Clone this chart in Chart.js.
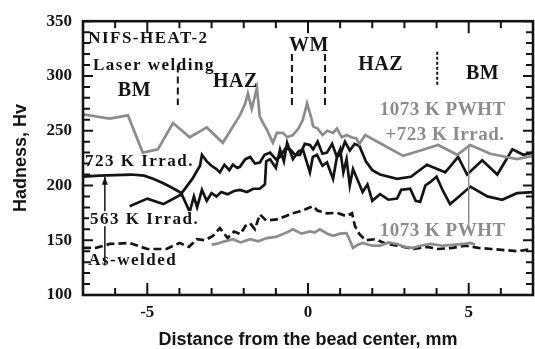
<!DOCTYPE html>
<html>
<head>
<meta charset="utf-8">
<script src="https://cdn.jsdelivr.net/npm/chart.js@4.4.0/dist/chart.umd.min.js"></script>
<style>
  html, body { margin: 0; padding: 0; background: #fff; }
  canvas { display: block; }
</style>
</head>
<body>
<canvas id="hvChart" width="535" height="349"></canvas>
<script>
// hardness profiles across the weld, x in mm from bead center, y in Hv
const pwhtIrrX = [-7, -6.17, -5.6, -5.14, -4.67, -4.2, -3.68, -3.15, -2.65, -2.12, -1.95, -1.87, -1.75, -1.59, -1.5, -1.4, -1.28, -1.09, -0.97, -0.78, -0.65, -0.47, -0.3, -0.16, -0.03, 0.1, 0.16, 0.3, 0.45, 0.6, 0.78, 0.9, 1.05, 1.2, 1.35, 1.5, 1.6, 1.78, 2.4, 2.96, 3.5, 4.05, 4.64, 5.05, 5.67, 6.5, 7];
const pwhtIrrY = [265, 261, 264, 230, 233, 257, 244, 253, 239, 264, 275, 284, 270, 289, 263, 257, 251, 239, 248, 248, 244, 246, 252, 260, 275, 262, 254, 252, 246, 250, 248, 252, 244, 246, 244, 243, 238, 246, 236, 227, 232, 237, 228, 237, 229, 224, 227];

const irr723X = [-7, -6.5, -6, -5.5, -5.1, -4.8, -4.5, -4.2, -3.93, -3.6, -3.36, -3.3, -3.15, -3, -2.85, -2.74, -2.6, -2.45, -2.34, -2.2, -2.12, -1.95, -1.8, -1.65, -1.5, -1.35, -1.18, -1, -0.87, -0.7, -0.56, -0.4, -0.25, -0.1, 0.06, 0.16, 0.3, 0.45, 0.59, 0.75, 0.9, 1, 1.15, 1.3, 1.45, 1.6, 1.8, 2, 2.24, 2.77, 3.2, 3.7, 4.27, 4.67, 4.95, 5.42, 5.89, 6.36, 6.7, 7];
const irr723Y = [208, 209, 209.5, 210, 209, 206, 202, 197.5, 193, 206, 218, 228, 222, 218, 215, 212, 219, 214, 219, 216, 217, 224, 226, 220, 221, 228, 230, 224, 226, 234, 233, 228, 228, 238, 237, 233, 240, 229, 230, 238, 226, 228, 240, 232, 238, 236, 222, 214, 210, 206, 208, 219, 212, 226, 210, 223, 210, 233, 228, 230];

const irr563X = [-5.55, -5, -4.5, -3.93, -3.68, -3.55, -3.45, -3.3, -3.15, -3, -2.85, -2.7, -2.5, -2.3, -2.12, -1.9, -1.7, -1.5, -1.34, -1.3, -1.18, -1, -0.87, -0.75, -0.65, -0.47, -0.3, -0.16, 0.06, 0.15, 0.28, 0.45, 0.59, 0.78, 0.9, 1, 1.1, 1.2, 1.3, 1.4, 1.53, 1.7, 1.85, 2, 2.24, 2.5, 2.77, 2.9, 3.18, 3.35, 3.49, 3.65, 3.8, 4, 4.2, 4.42, 4.7, 5.05, 5.58, 6.04, 6.5, 7];
const irr563Y = [181, 188, 183, 192, 176, 190, 180, 196, 186, 193, 190, 194, 192, 195, 196, 194, 197, 197, 201, 222, 224, 216, 233, 222, 239, 224, 231, 233, 212, 226, 228, 218, 221, 206, 226, 233, 212, 224, 200, 215, 206, 194, 201, 186, 192, 187, 188, 196, 197, 186, 185, 200, 203, 208, 195, 183, 190, 199, 190, 187, 193, 194];

const asWeldedX = [-7, -6.6, -6.17, -5.55, -5, -4.4, -4, -3.7, -3.46, -3.2, -2.96, -2.74, -2.5, -2.3, -2.1, -1.95, -1.8, -1.65, -1.5, -1.3, -0.97, -0.7, -0.47, -0.3, -0.1, 0.16, 0.3, 0.59, 0.9, 1.2, 1.37, 1.46, 1.6, 1.8, 2.1, 2.4, 2.8, 3.3, 3.7, 4.05, 4.5, 4.9, 5.3, 5.7, 6.1, 6.5, 7];
const asWeldedY = [143, 143, 146.6, 147.5, 142, 142, 147.5, 144, 151, 150, 154, 161, 152, 158, 155.6, 163, 165.5, 160, 173.6, 168, 169, 172, 174.6, 176, 178, 181, 177, 174.6, 175, 172, 174.6, 163, 155.6, 150, 151, 147, 145, 142, 144, 142, 143, 145, 143, 142, 141, 140, 142];

const pwhtX = [-3, -2.84, -2.6, -2.34, -2.1, -1.8, -1.55, -1.28, -1, -0.78, -0.6, -0.47, -0.2, 0.06, 0.2, 0.37, 0.6, 0.78, 1, 1.2, 1.3, 1.4, 1.55, 1.7, 2, 2.24, 2.5, 2.77, 3, 3.27, 3.5, 3.8, 4.2, 4.6, 4.83, 5.05, 5.2];
const pwhtY = [146, 146.6, 149, 151, 148, 151, 149, 152, 153, 155.6, 158, 160, 156, 158, 157, 160, 156, 154, 156, 156.5, 150, 143, 146, 147.5, 145, 145, 148, 146.6, 144, 143, 145, 146.6, 145, 146, 146.6, 147.5, 146];

// axes
const xMin = -7, xMax = 7;
const yMin = 100, yMax = 350;
const xTickValues = [-5, 0, 5];

const GRAY = '#8c8c8c';
const BLACK = '#141414';

function toPoints(xs, ys) {
    return xs.map((x, i) => ({ x: x, y: ys[i] }));
}

// text labels placed in data units
const labels = [
    { text: 'NIFS-HEAT-2', x: -6.84, y: 333.8, align: 'left', size: 17, color: BLACK },
    { text: 'Laser welding', x: -6.69, y: 309.5, align: 'left', size: 17, color: BLACK },
    { text: 'BM', x: -5.4, y: 286, align: 'center', size: 20, color: BLACK },
    { text: 'HAZ', x: -2.26, y: 295, align: 'center', size: 20, color: BLACK },
    { text: 'WM', x: 0.03, y: 327.5, align: 'center', size: 20, color: BLACK },
    { text: 'HAZ', x: 2.26, y: 310.4, align: 'center', size: 20, color: BLACK },
    { text: 'BM', x: 5.43, y: 302.3, align: 'center', size: 20, color: BLACK },
    { text: '1073 K PWHT', x: 4.19, y: 269, align: 'center', size: 19, color: GRAY },
    { text: '+723 K Irrad.', x: 4.26, y: 245.7, align: 'center', size: 19, color: GRAY },
    { text: '723 K Irrad.', x: -6.94, y: 221.4, align: 'left', size: 17, color: BLACK },
    { text: '563 K Irrad.', x: -6.78, y: 169.2, align: 'left', size: 17, color: BLACK, knockout: true },
    { text: 'As-welded', x: -6.84, y: 131.5, align: 'left', size: 17, color: BLACK },
    { text: '1073 K PWHT', x: 4.19, y: 158.4, align: 'center', size: 19, color: GRAY }
];

// dashed region boundaries: [x, yFrom, yTo]
const boundaries = [
    [-4.05, 309.5, 273.5],
    [-0.5, 320, 273.5],
    [0.53, 320, 273.5],
    [4.02, 322, 291.5]
];

const framePlugin = {
    id: 'frame',
    afterDatasetsDraw(chart) {
        const ctx = chart.ctx;
        const xs = chart.scales.x;
        const ys = chart.scales.y;
        const area = chart.chartArea;
        ctx.save();

        // region boundaries
        ctx.strokeStyle = BLACK;
        ctx.lineWidth = 2;
        boundaries.forEach((b, i) => {
            ctx.setLineDash(i === 3 ? [3, 2] : [7, 4]);
            const px = xs.getPixelForValue(b[0]);
            ctx.beginPath();
            ctx.moveTo(px, ys.getPixelForValue(b[1]));
            ctx.lineTo(px, ys.getPixelForValue(b[2]));
            ctx.stroke();
        });
        ctx.setLineDash([]);

        // arrow from as-welded up to 723 K level
        const ax = xs.getPixelForValue(-6.32);
        const aTop = ys.getPixelForValue(208);
        ctx.lineWidth = 1.5;
        ctx.beginPath();
        ctx.moveTo(ax, ys.getPixelForValue(127));
        ctx.lineTo(ax, aTop);
        ctx.stroke();
        ctx.beginPath();
        ctx.moveTo(ax, aTop);
        ctx.lineTo(ax - 3, aTop + 8);
        ctx.lineTo(ax + 3, aTop + 8);
        ctx.closePath();
        ctx.fillStyle = BLACK;
        ctx.fill();

        // leader line for 1073 K PWHT
        ctx.strokeStyle = GRAY;
        ctx.lineWidth = 1.5;
        const lx = xs.getPixelForValue(5);
        ctx.beginPath();
        ctx.moveTo(lx, ys.getPixelForValue(237.5));
        ctx.lineTo(lx, ys.getPixelForValue(165));
        ctx.stroke();

        // inward tick marks
        ctx.strokeStyle = BLACK;
        ctx.lineWidth = 2;
        for (let v = yMin; v <= yMax; v += 10) {
            const py = ys.getPixelForValue(v);
            const len = v % 50 === 0 ? 10 : 7;
            ctx.beginPath();
            ctx.moveTo(area.left, py);
            ctx.lineTo(area.left + len, py);
            ctx.moveTo(area.right, py);
            ctx.lineTo(area.right - len, py);
            ctx.stroke();
        }
        for (let v = xMin; v <= xMax; v += 1) {
            const px = xs.getPixelForValue(v);
            const len = v % 5 === 0 ? 12 : 7;
            ctx.beginPath();
            ctx.moveTo(px, area.bottom);
            ctx.lineTo(px, area.bottom - len);
            ctx.moveTo(px, area.top);
            ctx.lineTo(px, area.top + len);
            ctx.stroke();
        }

        // frame
        ctx.lineWidth = 2.6;
        ctx.strokeRect(area.left, area.top, area.right - area.left, area.bottom - area.top);

        // labels
        ctx.textBaseline = 'middle';
        labels.forEach(l => {
            ctx.font = 'bold ' + l.size + 'px "Liberation Serif", serif';
            ctx.letterSpacing = l.size === 17 ? '1.5px' : '0.5px';
            ctx.textAlign = l.align;
            const px = xs.getPixelForValue(l.x);
            const py = ys.getPixelForValue(l.y);
            if (l.knockout) {
                const w = ctx.measureText(l.text).width;
                ctx.fillStyle = '#fff';
                ctx.fillRect(px - 1, py - 8, w + 2, 15);
            }
            ctx.fillStyle = l.color;
            ctx.fillText(l.text, px, py);
        });
        ctx.letterSpacing = '0px';
        ctx.restore();
    }
};

function lineSet(label, xs, ys, color, dash) {
    return {
        label: label,
        data: toPoints(xs, ys),
        borderColor: color,
        borderWidth: 2.7,
        borderDash: dash || [],
        pointRadius: 0,
        tension: 0,
        fill: false
    };
}

const ctx = document.getElementById('hvChart').getContext('2d');
new Chart(ctx, {
    type: 'line',
    data: {
        datasets: [
            lineSet('1073 K PWHT + 723 K Irrad.', pwhtIrrX, pwhtIrrY, GRAY),
            lineSet('1073 K PWHT', pwhtX, pwhtY, GRAY),
            lineSet('As-welded', asWeldedX, asWeldedY, BLACK, [8, 4]),
            lineSet('563 K Irrad.', irr563X, irr563Y, BLACK),
            lineSet('723 K Irrad.', irr723X, irr723Y, BLACK)
        ]
    },
    options: {
        responsive: false,
        animation: false,
        devicePixelRatio: 1,
        layout: { padding: { top: 17, right: 2, left: 0, bottom: 0 } },
        plugins: {
            legend: { display: false },
            tooltip: { enabled: false }
        },
        scales: {
            x: {
                type: 'linear',
                min: xMin,
                max: xMax,
                afterFit: s => { s.height = 54; },
                afterBuildTicks: s => { s.ticks = xTickValues.map(v => ({ value: v })); },
                grid: { display: false, drawTicks: false },
                border: { display: false },
                ticks: {
                    padding: 7,
                    color: BLACK,
                    font: { family: '"Liberation Serif", serif', size: 17, weight: 'bold' }
                },
                title: {
                    display: true,
                    text: 'Distance from the bead center, mm',
                    color: BLACK,
                    padding: { top: 0, bottom: -2 },
                    font: { family: '"Liberation Sans", Arial, sans-serif', size: 18, weight: 'bold' }
                }
            },
            y: {
                min: yMin,
                max: yMax,
                afterFit: s => { s.width = 83; },
                grid: { display: false, drawTicks: false },
                border: { display: false },
                ticks: {
                    stepSize: 50,
                    padding: 11,
                    color: BLACK,
                    font: { family: '"Liberation Serif", serif', size: 17, weight: 'bold' }
                },
                title: {
                    display: true,
                    text: 'Hadness, Hv',
                    color: BLACK,
                    padding: { top: 10, bottom: 0 },
                    font: { family: '"Liberation Sans", Arial, sans-serif', size: 18, weight: 'bold' }
                }
            }
        }
    },
    plugins: [framePlugin]
});
</script>
</body>
</html>
